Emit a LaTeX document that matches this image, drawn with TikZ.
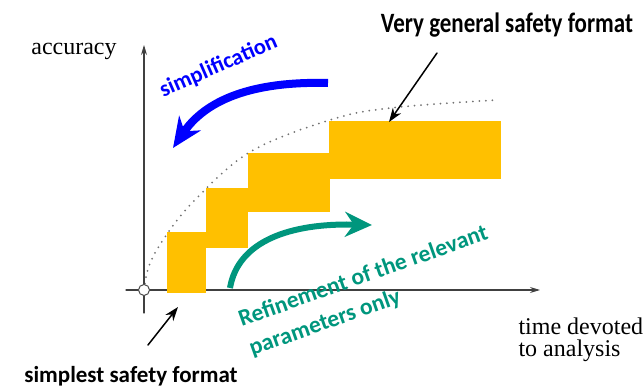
\documentclass[tikz,border=0pt]{standalone}
\usepackage{fontspec}
\setmainfont{Liberation Serif}
\newfontfamily\calibri{Carlito}
\usetikzlibrary{arrows.meta}
\definecolor{vang}{RGB}{255,192,0}
\definecolor{xanh}{RGB}{0,150,125}
\definecolor{lam}{RGB}{0,0,255}
\tikzset{
  nhan/.style={font=\fontsize{24}{22}\selectfont},
  dam/.style={font=\calibri\bfseries\fontsize{#1}{31}\selectfont},
  muiten/.style={line width=1.5pt, -{Stealth[length=14pt, width=10pt]}}
}
\begin{document}
\begin{tikzpicture}[x=1pt, y=1pt, line join=round, line cap=round, >={Stealth[length=10pt, width=6pt]}]
\useasboundingbox (0,0) rectangle (643,391);
\path (144,101) coordinate (O) (144,78) coordinate (Yd) (144,346) coordinate (Yt)
      (126,101) coordinate (Xl) (540,101) coordinate (Xr);
% duong cham
\draw[black!55, line width=2pt, dash pattern=on 0pt off 6.5pt] plot[smooth, tension=0.6]
  coordinates {(144,101) (149,125) (163,151) (193,189) (250,239) (330,271) (390,283) (497,291)};
% truc
\draw[->, line width=1.1pt, black!75] (Yd) -- (Yt);
\draw[->, line width=1.1pt, black!75] (Xl) -- (Xr);
\draw[fill=white, draw=black!70, line width=1pt] (O) circle (5.5);
% cac bac
\foreach \a/\b/\c/\d in {167/98/206/159, 206/143/248/203, 248/179/330/238, 329/212/501/270}{
  \fill[vang] (\a,\b) rectangle (\c,\d);
}
% chu
\node[nhan, anchor=base] (acc) at (74,336) {accuracy};
\node[nhan, align=left, anchor=base west] (time) at (515,34) {time devoted\\to analysis};
\node[dam=28, xscale=0.82, anchor=base] (gen) at (507,358) {Very general safety format};
\node[dam=23, anchor=base] (simplest) at (131,8) {simplest safety format};
\node[dam=22.5, lam, rotate=23.5, anchor=base] (simp) at (221,319) {simplification};
\node[dam=23.5, xanh, rotate=19.5, align=left, anchor=base west] (ref) at (249,34) {Refinement of the relevant\\parameters only};
% mui ten
\path (328,308) coordinate (simpS) (173,243) coordinate (simpE)
      (230,103) coordinate (refS) (372,166) coordinate (refE)
      (437,338) coordinate (genS) (389,269) coordinate (genE)
      (148,46) coordinate (simplestS) (178,84) coordinate (simplestE);
\draw[lam, line width=8pt, line cap=butt, -{Stealth[length=30pt, width=26pt]}]
  (simpS) .. controls (250,310) and (205,290) .. (simpE);
\draw[xanh, line width=6pt, line cap=butt, -{Stealth[length=27pt, width=25pt]}]
  (refS) .. controls (238,150) and (290,168) .. (refE);
\draw[muiten] (genS) -- (genE);
\draw[muiten] (simplestS) -- (simplestE);
\end{tikzpicture}
\end{document}
